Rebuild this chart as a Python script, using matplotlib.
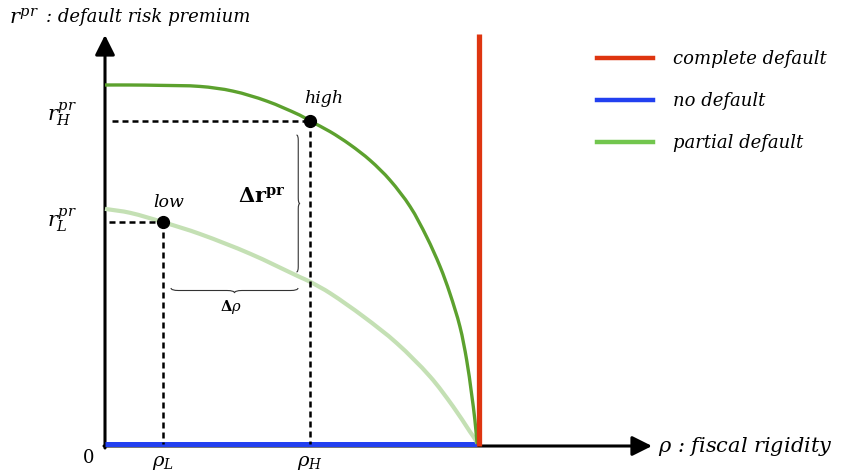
import numpy as np
import matplotlib.pyplot as plt
from matplotlib.path import Path
from matplotlib.patches import PathPatch
from matplotlib.lines import Line2D

# ---------- data (rho scaled so that complete default sits at rho = 1) ----------
rho_high = [0.0, 0.067, 0.147, 0.254, 0.342, 0.433, 0.521, 0.548, 0.602, 0.655,
            0.709, 0.762, 0.816, 0.860, 0.896, 0.922, 0.949, 0.967, 0.980, 0.989,
            0.994, 0.995]
prem_high = [1.0, 1.0, 0.999, 0.996, 0.983, 0.955, 0.916, 0.900, 0.870, 0.834,
             0.790, 0.735, 0.661, 0.577, 0.494, 0.420, 0.327, 0.234, 0.141, 0.067,
             0.011, 0.0]

rho_low = [0.0, 0.067, 0.155, 0.254, 0.388, 0.521, 0.548, 0.602, 0.691, 0.780,
           0.869, 0.931, 0.976, 0.994, 0.995]
prem_low = [0.655, 0.644, 0.618, 0.585, 0.530, 0.465, 0.452, 0.420, 0.355, 0.281,
            0.188, 0.104, 0.034, 0.006, 0.0]

rho_L, r_L = 0.155, 0.618
rho_H, r_H = 0.548, 0.900

rho_default = 1.0
default_top = 1.142
rho_nodefault = [0.0, 0.995]
prem_nodefault = [0.0, 0.0]

legend_labels = ["complete default", "no default", "partial default"]

# ---------- colours ----------
RED = "#DE3510"
BLUE = "#2240F0"
GREEN_LEG = "#72C64E"
GREEN_DARK = "#5CA12E"
GREEN_PALE = "#C4E0B4"

plt.rcParams["mathtext.fontset"] = "dejavuserif"
SERIF = "DejaVu Serif"

W, H = 841, 474
fig = plt.figure(figsize=(W / 100, H / 100), dpi=100)
ax = fig.add_axes([0, 0, 1, 1])

# pixel layout: origin of the diagram at (105, 444), 374 px per rho unit, 359 px per premium unit
X0, Y0, SX, SY = 105, 444, 374, 359
ax.set_xlim(-X0 / SX, (W - X0) / SX)
ax.set_ylim(-(H - Y0) / SY, Y0 / SY)
ax.axis("off")


def P(px, py):
    return (px - X0) / SX, (Y0 - py) / SY


def smooth_curve(xs, ys, **kw):
    """Draw a smooth cubic Bezier path passing through the given points."""
    pts = np.column_stack([np.asarray(xs) * SX, np.asarray(ys) * SY])
    n = len(pts)
    tang = np.zeros_like(pts)
    for i in range(n):
        a, b = pts[max(i - 1, 0)], pts[min(i + 1, n - 1)]
        d = b - a
        tang[i] = d / np.linalg.norm(d)
    verts, codes = [pts[0]], [Path.MOVETO]
    for i in range(n - 1):
        L = np.linalg.norm(pts[i + 1] - pts[i])
        verts += [pts[i] + tang[i] * L / 3, pts[i + 1] - tang[i + 1] * L / 3, pts[i + 1]]
        codes += [Path.CURVE4] * 3
    verts = np.array(verts) / [SX, SY]
    ax.add_patch(PathPatch(Path(verts, codes), fill=False, **kw))


def brace(x0, y0, x1, y1, depth, side=1, **kw):
    """Curly brace between two pixel points; the tip points to `side` of the span."""
    p0, p1 = np.array([x0, y0], float), np.array([x1, y1], float)
    L = np.linalg.norm(p1 - p0)
    u = (p1 - p0) / L
    n = np.array([-u[1], u[0]]) * side
    q = min(depth * 1.5, L / 6)
    h = depth
    local = [(0, 0), (0, h / 2), (q, h / 2), (L / 2 - q, h / 2), (L / 2, h / 2), (L / 2, h),
             (L / 2, h / 2), (L / 2 + q, h / 2), (L - q, h / 2), (L, h / 2), (L, 0)]
    codes = [Path.MOVETO, Path.CURVE3, Path.CURVE3, Path.LINETO, Path.CURVE3, Path.CURVE3,
             Path.CURVE3, Path.CURVE3, Path.LINETO, Path.CURVE3, Path.CURVE3]
    verts = [P(*(p0 + s * u + t * n)) for s, t in local]
    ax.add_patch(PathPatch(Path(verts, codes), fill=False, **kw))


# axes with arrow heads
arrow = dict(arrowstyle="-|>,head_length=0.6,head_width=0.3", lw=2.2, color="black",
             shrinkA=0, shrinkB=0, mutation_scale=20)
ax.annotate("", xy=P(105, 35), xytext=P(105, 448), arrowprops=arrow, zorder=2)
ax.annotate("", xy=P(652, 446), xytext=P(104, 446), arrowprops=arrow, zorder=2)

# equilibrium lines
ax.plot(rho_nodefault, prem_nodefault, color=BLUE, lw=3.6, solid_capstyle="butt", zorder=3)
smooth_curve(rho_low, prem_low, color=GREEN_PALE, lw=3.0, zorder=4)
smooth_curve(rho_high, prem_high, color=GREEN_DARK, lw=2.4, zorder=5)
ax.plot([rho_default, rho_default], [0 - 0.006, default_top], color=RED, lw=3.8,
        solid_capstyle="butt", zorder=6)

# reference points with dashed projections
dash = dict(color="black", lw=1.8, linestyle=(0, (2.4, 1.6)), zorder=5)
ax.plot([0.02, rho_H], [r_H, r_H], **dash)
ax.plot([rho_H, rho_H], [r_H, 0], **dash)
ax.plot([0.01, rho_L], [r_L, r_L], **dash)
ax.plot([rho_L, rho_L], [r_L, 0], **dash)
ax.plot([rho_L, rho_H], [r_L, r_H], "o", color="black", ms=8.5, zorder=7)

# braces
brace(296.5, 135, 296.5, 272, depth=3.5, side=-1, color="#333333", lw=0.8, zorder=5)
brace(171, 288, 298, 288, depth=5, side=1, color="#333333", lw=0.8, zorder=5)

# text
it = dict(family=SERIF, style="italic", color="black")
ax.text(*P(9, 18), r"$r^{pr}$", fontsize=15, va="center", ha="left")
ax.text(*P(46, 17), ": default risk premium", fontsize=13, va="center", ha="left", **it)
ax.text(*P(658, 447), r"$\rho$ : fiscal rigidity", fontsize=15, va="center", ha="left", **it)
ax.text(P(62, 0)[0], r_H + 6 / SY, r"$r_H^{pr}$", fontsize=15, va="center", ha="center")
ax.text(P(62, 0)[0], r_L + 1 / SY, r"$r_L^{pr}$", fontsize=15, va="center", ha="center")
ax.text(*P(89, 458), "0", fontsize=13, family=SERIF, va="center", ha="center")
ax.text(rho_L, -18 / SY, r"$\rho_L$", fontsize=14, va="center", ha="center")
ax.text(rho_H, -18 / SY, r"$\rho_H$", fontsize=14, va="center", ha="center")
ax.text(rho_H + 14 / SX, r_H + 22 / SY, "high", fontsize=12.5, va="center", ha="center", **it)
ax.text(rho_L + 6 / SX, r_L + 20 / SY, "low", fontsize=12.5, va="center", ha="center", **it)
ax.text(*P(262, 197), r"$\mathbf{\Delta r}^{\mathbf{pr}}$", fontsize=15, va="center", ha="center")
ax.text(*P(231, 307), r"$\mathbf{\Delta}\rho$", fontsize=10.5, va="center", ha="center",
        fontweight="bold")

# legend
handles = [Line2D([], [], color=c, lw=3.2) for c in (RED, BLUE, GREEN_LEG)]
leg = ax.legend(handles, legend_labels, loc="upper left", bbox_to_anchor=(597 / W, 1 - 50 / H),
                bbox_transform=fig.transFigure, frameon=False, borderpad=0, borderaxespad=0,
                handlelength=3.1, handletextpad=1.1, labelspacing=1.33,
                prop=dict(family=SERIF, style="italic", size=13))

fig.savefig("out.png", dpi=100)
